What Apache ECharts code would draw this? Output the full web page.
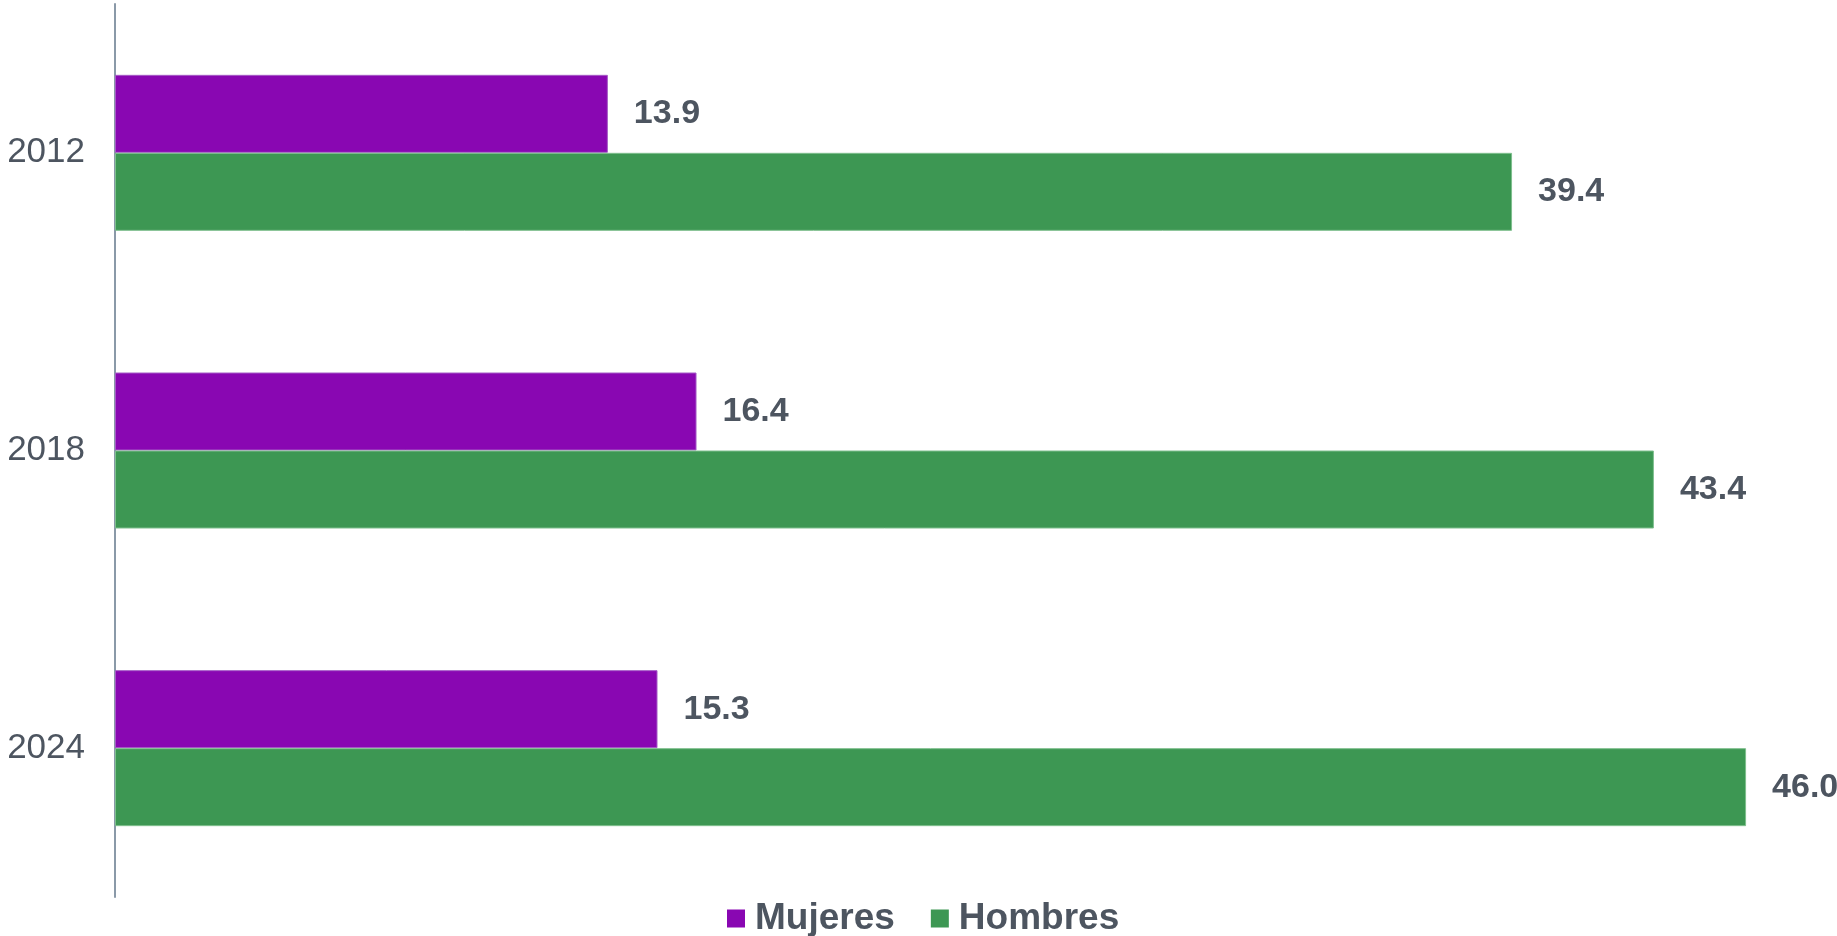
<!DOCTYPE html>
<html><head><meta charset="utf-8">
<script src="https://cdn.jsdelivr.net/npm/echarts@6/dist/echarts.min.js"></script>
<style>html,body{margin:0;padding:0;background:#fff}#c{width:1837px;height:936px}</style>
</head><body><div id="c"></div>
<script>
const categories = ['2012', '2018', '2024'];
const mujeres = [13.9, 16.4, 15.3];
const hombres = [39.4, 43.4, 46.0];
const seriesNames = ['Mujeres', 'Hombres'];

const chart = echarts.init(document.getElementById('c'));
const font = 'Liberation Sans, Arial, sans-serif';
const labelStyle = {
  show: true, position: 'right', distance: 26,
  fontFamily: font, fontSize: 34, fontWeight: 'bold', color: '#4d5560',
  formatter: p => p.value.toFixed(1)
};
chart.setOption({
  animation: false,
  grid: { left: 115, right: 20, top: 4, bottom: 39, containLabel: false },
  legend: {
    left: 722, top: 895,
    itemWidth: 18, itemHeight: 18, itemGap: 36, icon: 'rect',
    itemStyle: { borderWidth: 0 },
    textStyle: { fontFamily: font, fontSize: 37, fontWeight: 'bold', color: '#4d5560', padding: [0, 0, 0, 5] },
    data: seriesNames
  },
  xAxis: { type: 'value', min: 0, max: 48, show: false, splitLine: { show: false } },
  yAxis: {
    type: 'category', inverse: true, data: categories,
    axisLine: { show: true, lineStyle: { color: '#8a99a8', width: 2 } },
    axisTick: { show: false },
    axisLabel: { fontFamily: font, fontSize: 35, color: '#4d5560', margin: 30 }
  },
  series: [
    { name: seriesNames[0], type: 'bar', data: mujeres, barWidth: 78, barGap: '0%',
      itemStyle: { color: '#8907b2', borderColor: '#a55cc6', borderWidth: 1 }, label: labelStyle },
    { name: seriesNames[1], type: 'bar', data: hombres, barWidth: 78,
      itemStyle: { color: '#3d9753', borderColor: '#7fbf8e', borderWidth: 1 }, label: labelStyle }
  ]
});
</script></body></html>
